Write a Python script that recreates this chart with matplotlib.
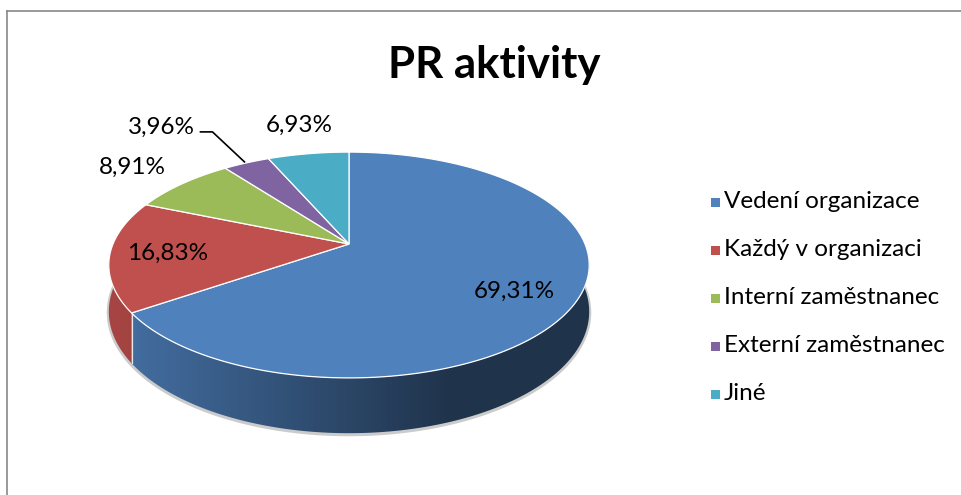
import numpy as np
import matplotlib.pyplot as plt
from matplotlib.patches import Polygon, Rectangle
from matplotlib.lines import Line2D

categories = ['Vedení organizace', 'Každý v organizaci', 'Interní zaměstnanec',
              'Externí zaměstnanec', 'Jiné']
values = [69.31, 16.83, 8.91, 3.96, 6.93]
labels = ['69,31%', '16,83%', '8,91%', '3,96%', '6,93%']
colors = ['#4F81BD', '#C0504D', '#9BBB59', '#8064A2', '#4BACC6']

plt.rcParams['font.family'] = ['Lato', 'DejaVu Sans']

W, H = 961, 495
fig = plt.figure(figsize=(W / 100, H / 100), dpi=100)
ax = fig.add_axes([0, 0, 1, 1])
ax.set_xlim(0, W)
ax.set_ylim(H, 0)
ax.axis('off')

# pie geometry in pixels, with a bit of perspective like excel 3d
cx, cy = 349, 244
A, B, k = 236, 109, 0.186
depth = 45


def proj(theta, r=1.0, dz=0.0):
    t = np.radians(theta)
    u, v = r * np.cos(t), r * np.sin(t)
    w = 1 + k * v
    return cx + A * u / w, cy - B * v / w + dz / w


frac = np.array(values) / np.sum(values)
starts = 90 - 360 * np.concatenate([[0], np.cumsum(frac)[:-1]])
ends = starts - 360 * frac


def shade(col, f):
    c = np.array(plt.matplotlib.colors.to_rgb(col))
    return c * f


# soft shadow under the side
th = np.linspace(-195, 15, 200)
bx, by = proj(th, dz=depth)
ax.plot(bx, by + 1, color='#b5b5b5', lw=3, alpha=0.7, zorder=1)

# side walls (front half only)
xs = np.linspace(100, 600, 300)
fac = np.clip(0.86 - (xs - 120) / (450 - 120) * 0.46, 0.40, 0.86)
for i in range(len(values)):
    lo, hi = max(ends[i], -180), min(starts[i], 0)
    if hi <= lo:
        continue
    th = np.linspace(lo, hi, 120)
    tx, ty = proj(th)
    bx, by = proj(th[::-1], dz=depth)
    pts = np.column_stack([np.concatenate([tx, bx]), np.concatenate([ty, by])])
    poly = Polygon(pts, closed=True, facecolor='none', edgecolor='none', zorder=2)
    ax.add_patch(poly)
    img = np.array([[shade(colors[i], f) for f in fac]])
    im = ax.imshow(img, extent=[100, 600, 450, 150], aspect='auto',
                   interpolation='bilinear', zorder=2)
    im.set_clip_path(poly)
    # thin light edge at the slice cut
    for a in (lo, hi):
        if -180 < a < 0:
            x0, y0 = proj(a)
            x1, y1 = proj(a, dz=depth)
            ax.plot([x0, x1], [y0, y1], color='#e8e8e8', lw=0.8, zorder=3)

# top faces
for i in range(len(values)):
    th = np.linspace(ends[i], starts[i], 200)
    tx, ty = proj(th)
    pts = np.column_stack([np.concatenate([[cx], tx]), np.concatenate([[cy], ty])])
    ax.add_patch(Polygon(pts, closed=True, facecolor=colors[i],
                         edgecolor='white', lw=0.9, zorder=4))

# data labels
fs = 17.5
mid = (starts + ends) / 2
x, y = proj(mid[0], r=0.74)
ax.text(x, y + 7, labels[0], fontsize=fs, ha='center', va='center', zorder=5)
x, y = proj(mid[1], r=0.76)
ax.text(x, y + 1, labels[1], fontsize=fs, ha='center', va='center', zorder=5)
x, y = proj(mid[2], r=1.34)
ax.text(x, y + 1, labels[2], fontsize=fs, ha='center', va='center', zorder=5)
x, y = proj(mid[4], r=1.4)
ax.text(x + 4, y, labels[4], fontsize=fs, ha='center', va='center', zorder=5)
# externi has a leader line
x, y = proj(mid[3], r=1.0)
ax.plot([x - 2, x - 34, x - 46], [y - 1, y - 31, y - 31], color='black', lw=1.2, zorder=5)
ax.text(x - 52, y - 36, labels[3], fontsize=fs, ha='right', va='center', zorder=5)

# title
ax.text(494, 65, 'PR aktivity', fontsize=31.5, fontweight='bold', ha='center', va='center')

# legend
for i, name in enumerate(categories):
    ly = 202 + i * 48
    ax.add_patch(Rectangle((711, ly - 4.5), 9, 9, facecolor=colors[i], edgecolor='none'))
    ax.text(724, ly, name, fontsize=fs, ha='left', va='center')

# chart border (cut off on the right/bottom)
ax.add_line(Line2D([7, W], [11, 11], color='#888888', lw=1.2))
ax.add_line(Line2D([7, 7], [11, H], color='#888888', lw=1.2))

fig.savefig('out.png', dpi=100)
